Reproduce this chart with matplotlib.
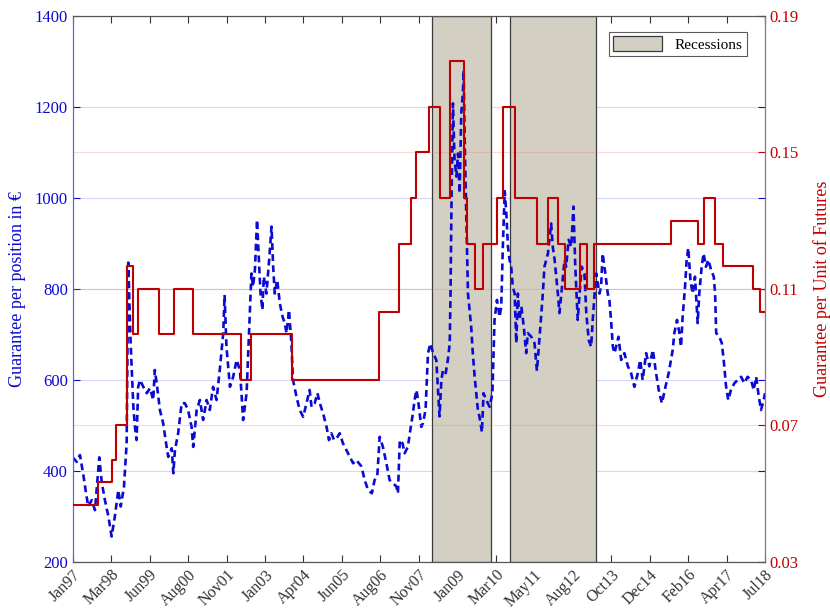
import numpy as np
import matplotlib
matplotlib.use("Agg")
import matplotlib.pyplot as plt
from matplotlib.patches import Patch

plt.rcParams['font.family'] = ['Liberation Serif', 'DejaVu Serif']

# x axis: months elapsed since January 1997 (trading-day based scale)
tick_labels = ["Jan97", "Mar98", "Jun99", "Aug00", "Nov01", "Jan03", "Apr04", "Jun05",
               "Aug06", "Nov07", "Jan09", "Mar10", "May11", "Aug12", "Oct13", "Dec14",
               "Feb16", "Apr17", "Jul18"]
x_end = 258.0

# Guarantee per position in EUR (left axis)
pos_t = [0.0, 1.5, 2.7, 4.0, 5.0, 5.8, 7.1, 8.3, 9.2, 9.9, 10.8, 12.0, 13.3, 14.5, 15.7, 17.0,
         17.9, 19.1, 20.1, 20.7, 21.6, 22.6, 23.2, 23.8, 24.4, 25.1, 26.3, 27.6, 28.8, 30.0,
         30.6, 31.3, 32.5, 33.7, 35.0, 35.6, 36.9, 37.5, 38.1, 39.3, 40.6, 41.8, 43.0, 44.3,
         44.9, 46.2, 47.4, 48.6, 49.9, 51.1, 52.3, 53.6, 54.8, 56.1, 56.6, 57.3, 58.6, 59.8,
         61.1, 62.3, 62.9, 63.5, 64.8, 65.4, 66.0, 66.6, 67.2, 67.9, 68.7, 69.5, 70.0, 70.7,
         71.2, 72.2, 73.2, 74.1, 74.7, 75.3, 76.2, 77.2, 78.2, 79.0, 79.7, 80.6, 81.5, 82.1,
         83.4, 84.6, 85.9, 87.1, 88.3, 89.0, 90.2, 91.2, 92.1, 93.3, 94.6, 95.5, 96.4, 97.4,
         98.7, 99.5, 100.7, 102.6, 104.5, 105.7, 107.6, 108.8, 110.1, 111.5, 112.5, 113.5,
         114.4, 115.6, 116.9, 118.1, 119.4, 120.6, 121.2, 121.9, 122.9, 123.7, 124.9, 126.0,
         126.8, 127.4, 128.1, 128.7, 129.3, 129.9, 130.5, 131.5, 132.4, 133.3, 134.3, 135.5,
         136.7, 137.4, 138.0, 139.0, 139.8, 140.5, 140.8, 141.2, 141.7, 142.3, 143.0, 143.6,
         144.2, 144.8, 145.4, 145.7, 146.1, 146.7, 147.3, 147.9, 148.5, 149.1, 149.8, 150.4,
         151.0, 151.6, 152.5, 153.1, 154.1, 155.4, 156.4, 157.2, 158.1, 159.1, 159.7, 160.3,
         161.0, 161.6, 162.2, 162.8, 163.4, 164.0, 164.7, 165.3, 165.9, 166.5, 167.2, 168.1,
         169.0, 169.6, 170.9, 172.1, 173.0, 174.0, 175.2, 175.8, 177.1, 178.3, 178.9, 179.6,
         180.8, 181.4, 182.7, 183.3, 183.9, 184.8, 185.8, 186.6, 187.3, 188.2, 188.9, 189.7,
         190.7, 191.4, 192.3, 193.2, 193.8, 194.5, 195.1, 196.3, 196.9, 197.5, 198.5, 199.4,
         200.0, 200.7, 201.3, 201.9, 202.5, 203.4, 204.4, 205.6, 206.9, 208.1, 209.3, 210.6,
         211.5, 212.4, 213.7, 214.9, 216.2, 217.4, 218.6, 219.6, 220.9, 222.1, 223.6, 224.2,
         225.2, 226.1, 226.7, 227.3, 228.2, 228.8, 229.4, 230.2, 231.0, 231.9, 232.9, 233.5,
         234.4, 235.1, 236.0, 236.9, 237.9, 238.9, 239.4, 239.8, 241.0, 241.9, 242.6, 243.5,
         244.3, 245.3, 246.6, 247.8, 249.1, 250.3, 251.5, 252.8, 253.8, 254.7, 255.5, 256.5,
         257.5, 258.0]
pos_eur = [430, 420, 435, 390, 350, 322, 336, 314, 380, 430, 376, 336, 300, 256, 300, 358,
           322, 365, 461, 858, 680, 541, 497, 468, 585, 600, 585, 571, 582, 556,
           622, 593, 534, 505, 453, 431, 450, 395, 446, 483, 549, 549, 534, 497,
           453, 534, 556, 512, 556, 534, 585, 556, 622, 703, 787, 673, 585, 607,
           644, 622, 571, 512, 571, 659, 747, 834, 805, 842, 952, 849, 790, 754,
           827, 790, 864, 937, 849, 790, 820, 768, 739, 725, 703, 754, 681, 600,
           563, 534, 519, 549, 578, 541, 549, 571, 549, 527, 497, 468, 483, 468,
           475, 483, 461, 439, 417, 424, 410, 380, 358, 351, 380, 388,
           475, 453, 417, 380, 373, 366, 351, 468, 461, 439, 453, 497,
           527, 556, 578, 556, 527, 497, 505, 534, 659, 680, 659, 644,
           520, 600, 622, 615, 644, 680, 790, 1010, 1208, 1084, 1047, 1098,
           1010, 1186, 1230, 1281, 1120, 952, 790, 754, 717, 659, 607, 571,
           534, 519, 485, 571, 556, 541, 571, 732, 776, 739, 761, 893,
           1015, 966, 893, 864, 849, 805, 790, 681, 790, 732, 761, 717,
           659, 703, 695, 681, 620, 695, 790, 849, 878, 944, 893, 864,
           790, 747, 827, 864, 849, 908, 893, 981, 849, 732, 790, 849,
           834, 747, 688, 673, 732, 790, 834, 790, 805, 878, 834, 790,
           776, 725, 673, 659, 673, 695, 644, 659, 630, 615, 585, 615,
           644, 600, 659, 630, 666, 615, 571, 549, 585, 615, 666, 703,
           732, 703, 673, 739, 805, 864, 890, 820, 790, 827, 725, 790,
           849, 878, 849, 864, 842, 827, 790, 703, 695, 681, 644, 585,
           556, 578, 593, 600, 607, 593, 607, 600, 578, 607, 571, 534,
           556, 571]

# Guarantee per unit of futures (right axis), step changes
unit_t = [0.0, 9.4, 14.5, 16.0, 20.3, 22.3, 24.2, 32.2, 37.7, 44.7, 62.9, 66.4, 81.8,
          114.0, 121.5, 126.1, 127.9, 132.6, 137.0, 140.7, 145.7, 147.1, 150.0, 152.8,
          158.1, 160.3, 165.0, 173.0, 177.1, 180.8, 183.3, 188.9, 191.7, 194.2, 223.0,
          232.9, 235.1, 239.5, 242.5, 253.4, 256.1, 258.0]
unit_val = [0.0467, 0.0533, 0.0600, 0.0700, 0.1167, 0.0967, 0.1100, 0.0967, 0.1100, 0.0967,
            0.0833, 0.0967, 0.0833, 0.1033, 0.1233, 0.1367, 0.1500, 0.1633, 0.1367, 0.1767,
            0.1367, 0.1233, 0.1100, 0.1233, 0.1367, 0.1633, 0.1367, 0.1233, 0.1367, 0.1233,
            0.1100, 0.1233, 0.1100, 0.1233, 0.1300, 0.1233, 0.1367, 0.1233, 0.1167, 0.1100,
            0.1033, 0.1033]

# Recession periods (start, end)
recessions = [(133.9, 155.8), (163.1, 194.9)]

blue = '#0a0ad2'
red = '#c00000'

fig = plt.figure(figsize=(8.3, 6.14), dpi=100)
ax1 = fig.add_axes([0.0876, 0.0847, 0.8341, 0.8893])
ax2 = ax1.twinx()

for a, b in recessions:
    ax1.axvspan(a, b, facecolor='#d3cfc3', edgecolor='#3a3a3a', linewidth=0.9, zorder=1)

ax1.plot(pos_t, pos_eur, color=blue, linestyle=(0, (2.6, 1.6)), linewidth=1.9, zorder=3)
ax2.step(unit_t, unit_val, where='post', color=red, linewidth=1.5, zorder=3)

ax1.set_xlim(0, x_end)
ax1.set_ylim(200, 1400)
ax2.set_ylim(0.03, 0.19)

ax1.set_yticks(np.arange(200, 1401, 200))
ax2.set_yticks([0.03, 0.07, 0.11, 0.15, 0.19])
ax2.set_yticklabels(['0.03', '0.07', '0.11', '0.15', '0.19'])
ax1.set_xticks(np.linspace(0, x_end, len(tick_labels)))
ax1.set_xticklabels(tick_labels, rotation=45, ha='right', rotation_mode='anchor', fontsize=11.5)

ax1.grid(axis='y', color='#5a5aff', alpha=0.25, linewidth=0.8)
ax2.grid(axis='y', color='#ff6060', alpha=0.25, linewidth=0.8)
ax1.set_axisbelow(True)

ax1.tick_params(axis='y', colors=blue, labelsize=12, direction='in', length=5,
                right=True, labelright=False)
ax1.tick_params(axis='x', colors='#333333', labelsize=11.5, direction='in', length=5, top=True)
ax2.tick_params(axis='y', colors=red, labelsize=12, direction='in', length=5)

ax1.spines['left'].set_color('#6060e0')
ax2.spines['left'].set_color('#6060e0')
ax2.spines['right'].set_color('#d06060')
for ax in (ax1, ax2):
    ax.spines['top'].set_color('#555555')
    ax.spines['bottom'].set_color('#555555')

ax1.set_ylabel('Guarantee per position in €', color=blue, fontsize=13, labelpad=6)
ax2.set_ylabel('Guarantee per Unit of Futures', color=red, fontsize=13, labelpad=10)

handle = Patch(facecolor='#d3cfc3', edgecolor='#3a3a3a', linewidth=0.9, label='Recessions')
leg = ax2.legend(handles=[handle], loc='upper right', bbox_to_anchor=(0.985, 0.985),
                 fontsize=11, frameon=True, fancybox=False, edgecolor='#333333',
                 handlelength=3.2, handleheight=1.1, borderpad=0.3)
leg.get_frame().set_linewidth(0.8)

fig.savefig('out.png', dpi=100)
